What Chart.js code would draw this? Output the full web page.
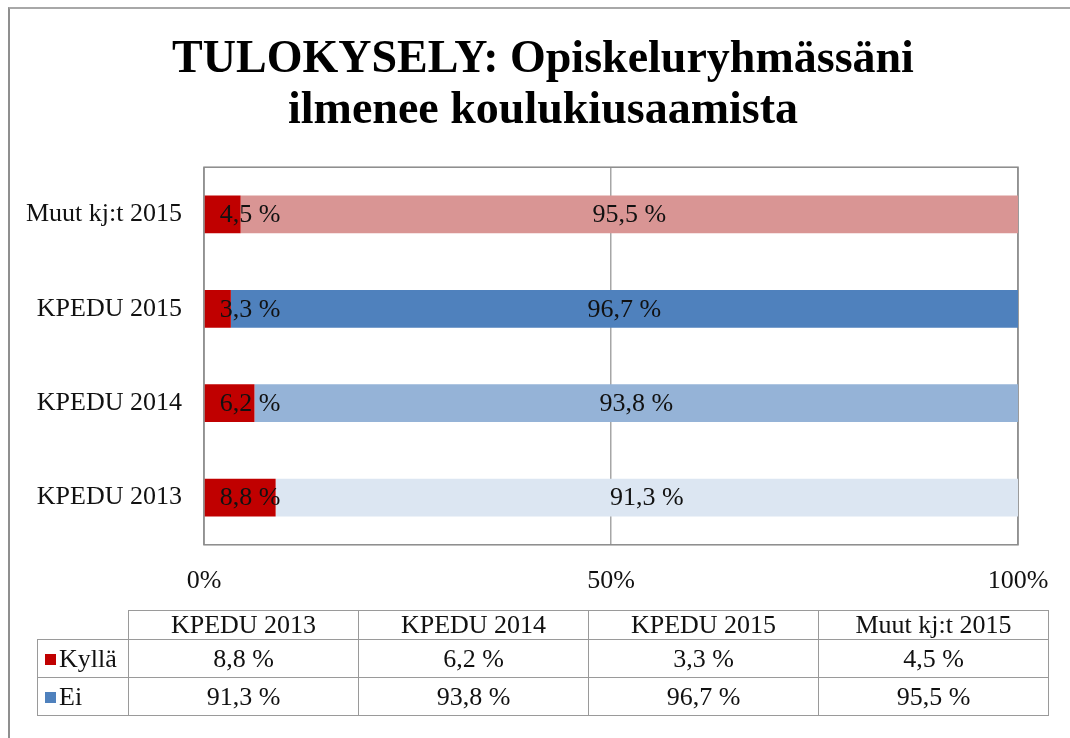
<!DOCTYPE html>
<html><head><meta charset="utf-8">
<script src="https://cdn.jsdelivr.net/npm/chart.js@4"></script>
<style>
html,body{margin:0;padding:0;background:#fff;width:1070px;height:738px;overflow:hidden;position:relative;font-family:"Liberation Serif","Times New Roman",serif;}
#frame{position:absolute;left:8px;top:7px;width:1100px;height:800px;border-left:2px solid #8f8f8f;border-top:2px solid #a8a8a8;box-sizing:border-box;}
#wrap{position:absolute;left:0;top:0;width:1078px;height:620px;}
#tbl{position:absolute;left:37px;top:610px;border-collapse:collapse;font-size:26px;color:#111;table-layout:fixed;}
#tbl td{border:1px solid #9a9a9a;text-align:center;padding:0;white-space:nowrap;line-height:1;}
#tbl td.corner{border-top:none;border-left:none;}
#tbl td.leg{text-align:left;padding-left:7px;}
.key{display:inline-block;width:11px;height:11px;margin-right:3px;vertical-align:2px;}
</style>
</head><body>
<div id="frame"></div>
<div id="wrap"><canvas id="c" width="1078" height="620"></canvas></div>
<table id="tbl"></table>
<script>
// ---- data ----
const categories = ['KPEDU 2013', 'KPEDU 2014', 'KPEDU 2015', 'Muut kj:t 2015'];
const seriesNames = ['Kyllä', 'Ei'];
const kyllaValues = [8.8, 6.2, 3.3, 4.5];
const eiValues = [91.3, 93.8, 96.7, 95.5];
const xTickLabels = ['0%', '50%', '100%'];
const titleLines = ['TULOKYSELY: Opiskeluryhmässäni', 'ilmenee koulukiusaamista'];

// ---- styles ----
const kyllaColor = '#C00000';
const eiBarColors = ['#DCE6F2', '#95B3D7', '#4F81BD', '#D99594'];
const eiKeyColor = '#4F81BD';
const FONT = "'Liberation Serif', 'Times New Roman', serif";

const fmt = v => v.toFixed(1).replace('.', ',') + ' %';

const plotBox = {
  id: 'plotBox',
  beforeDatasetsDraw(chart) {
    const a = chart.chartArea, ctx = chart.ctx;
    ctx.save();
    ctx.strokeStyle = '#8a8a8a';
    ctx.lineWidth = 1.5;
    ctx.strokeRect(a.left, a.top, a.right - a.left, a.bottom - a.top);
    ctx.restore();
  }
};

const barLabels = {
  id: 'barLabels',
  afterDatasetsDraw(chart) {
    const ctx = chart.ctx;
    ctx.save();
    ctx.font = '26px ' + FONT;
    ctx.fillStyle = '#111';
    ctx.textBaseline = 'middle';
    chart.data.datasets.forEach((ds, di) => {
      const meta = chart.getDatasetMeta(di);
      meta.data.forEach((bar, i) => {
        const txt = fmt(ds.data[i]);
        if (di === 0) {
          ctx.textAlign = 'left';
          ctx.fillText(txt, bar.base + 15, bar.y + 1);
        } else {
          ctx.textAlign = 'center';
          ctx.fillText(txt, (bar.base + Math.min(bar.x, chart.chartArea.right)) / 2, bar.y + 1);
        }
      });
    });
    ctx.restore();
  }
};

new Chart(document.getElementById('c'), {
  type: 'bar',
  data: {
    labels: categories,
    datasets: [
      { label: seriesNames[0], data: kyllaValues, backgroundColor: kyllaColor, barPercentage: 0.4, categoryPercentage: 1 },
      { label: seriesNames[1], data: eiValues, backgroundColor: eiBarColors, barPercentage: 0.4, categoryPercentage: 1 }
    ]
  },
  options: {
    indexAxis: 'y',
    responsive: false,
    animation: false,
    devicePixelRatio: 1,
    layout: { padding: { left: 8, right: 0, top: 7, bottom: 2 } },
    plugins: {
      legend: { display: false },
      tooltip: { enabled: false },
      title: {
        display: true,
        text: titleLines,
        color: '#000',
        font: { family: FONT, size: 46, weight: 'bold', lineHeight: 1.1 },
        padding: { top: 28, bottom: 31 }
      }
    },
    scales: {
      x: {
        stacked: true,
        min: 0, max: 100,
        border: { display: false },
        grid: { color: '#a6a6a6', lineWidth: 1.5, drawTicks: false },
        ticks: {
          stepSize: 50,
          padding: 21,
          color: '#111',
          font: { family: FONT, size: 26 },
          callback: (v, i) => xTickLabels[i]
        }
      },
      y: {
        stacked: true,
        reverse: true,
        border: { display: false },
        grid: { display: false, drawTicks: false },
        ticks: { padding: 22, color: '#111', font: { family: FONT, size: 26 } },
        afterFit: s => { s.width = 196; }
      },
      yRight: {
        type: 'category',
        position: 'right',
        border: { display: false },
        grid: { display: false, drawTicks: false },
        ticks: { display: false },
        afterFit: s => { s.width = 60; }
      }
    }
  },
  plugins: [plotBox, barLabels]
});

// ---- data table ----
const tbl = document.getElementById('tbl');
const colW = [91, 230, 230, 230, 230];
let html = '<colgroup>' + colW.map(w => '<col style="width:' + w + 'px">').join('') + '</colgroup>';
html += '<tr style="height:29px"><td class="corner"></td>' + categories.map(c => '<td>' + c + '</td>').join('') + '</tr>';
const rows = [[seriesNames[0], kyllaColor, kyllaValues, 38], [seriesNames[1], eiKeyColor, eiValues, 38]];
rows.forEach(r => {
  html += '<tr style="height:' + r[3] + 'px"><td class="leg"><span class="key" style="background:' + r[1] + '"></span>' + r[0] + '</td>' +
    r[2].map(v => '<td>' + fmt(v) + '</td>').join('') + '</tr>';
});
tbl.innerHTML = html;
</script>
</body></html>
